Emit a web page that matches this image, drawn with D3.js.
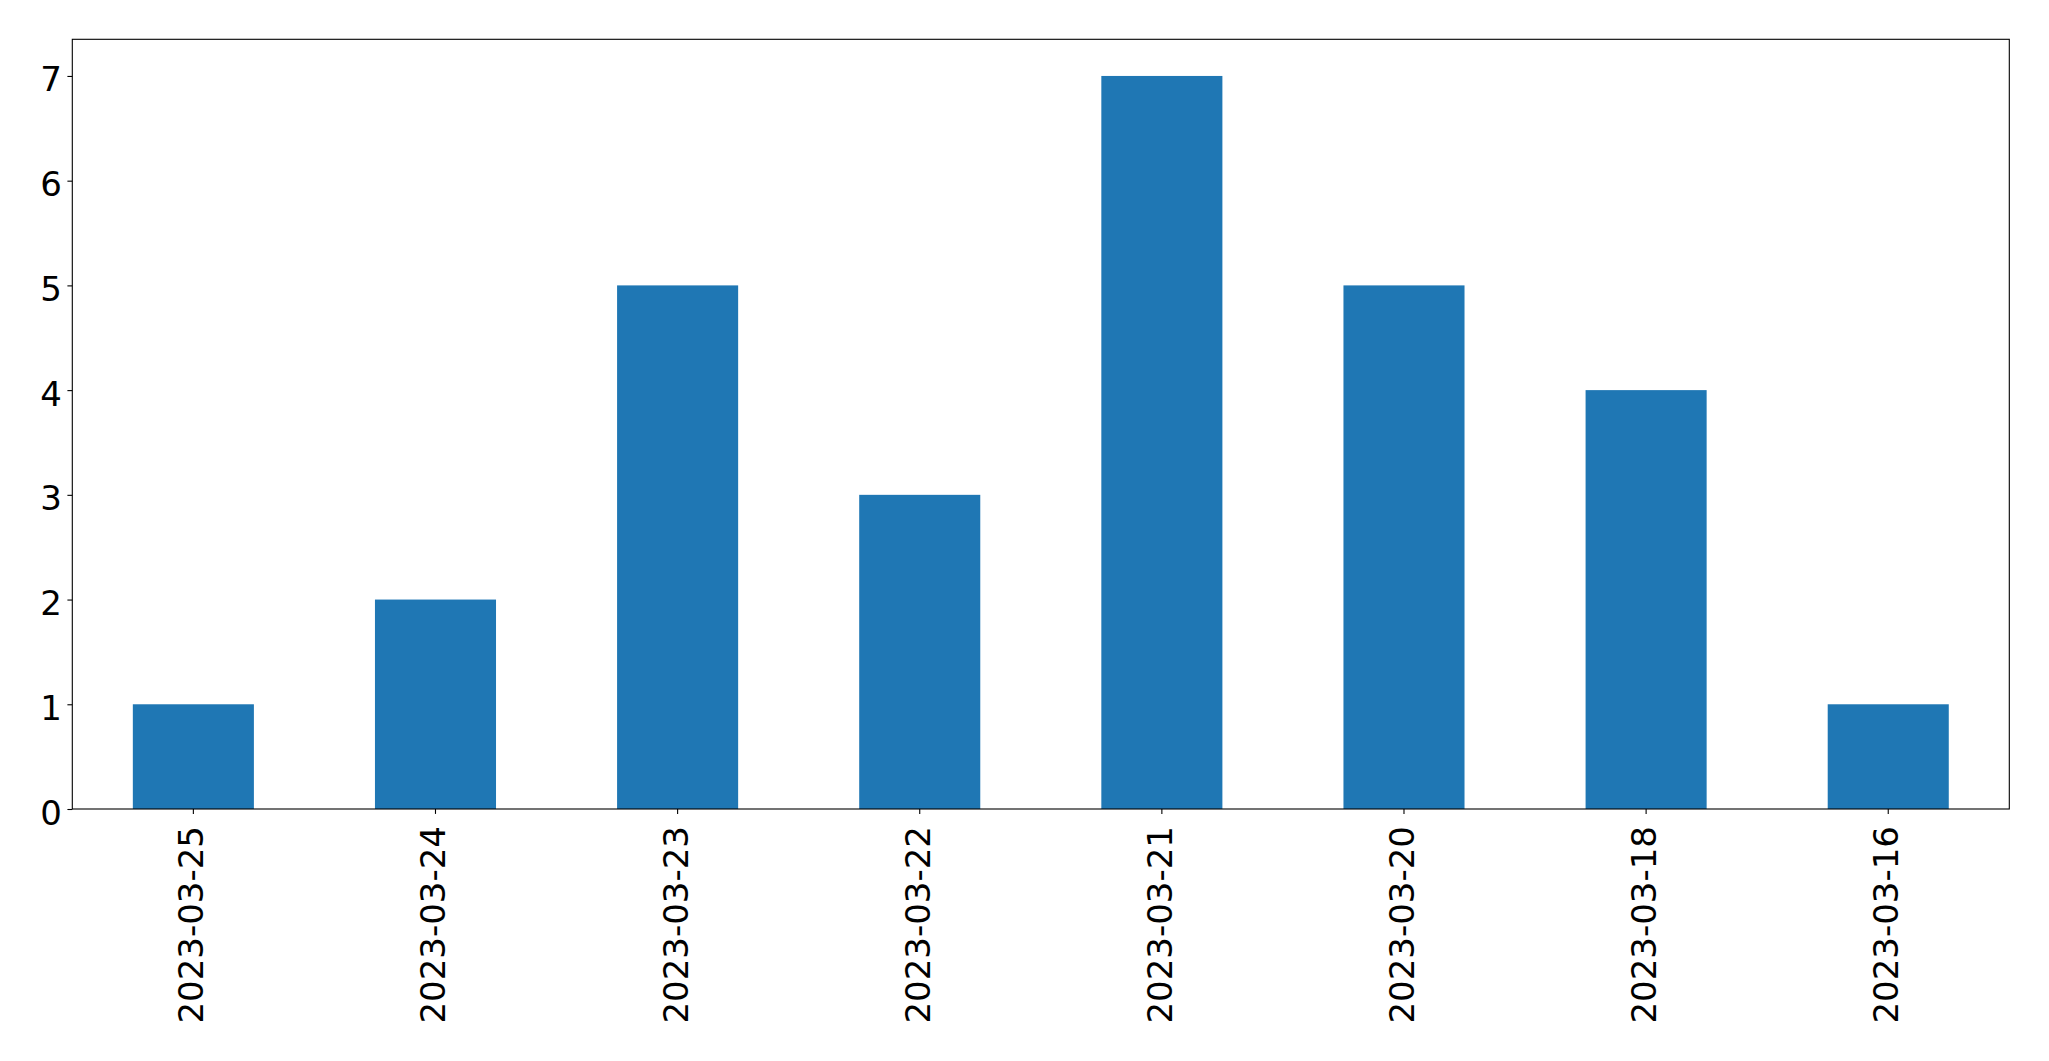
<!DOCTYPE html>
<html>
<head>
<meta charset="utf-8">
<script src="https://cdn.jsdelivr.net/npm/d3@7"></script>
<style>
  html, body { margin: 0; padding: 0; background: #ffffff; }
  svg { display: block; }
  text { font-family: "DejaVu Sans", sans-serif; fill: #000; }
</style>
</head>
<body>
<script>
const categories = ["2023-03-25", "2023-03-24", "2023-03-23", "2023-03-22", "2023-03-21", "2023-03-20", "2023-03-18", "2023-03-16"];
const values = [1, 2, 5, 3, 7, 5, 4, 1];
const yTicks = [0, 1, 2, 3, 4, 5, 6, 7];

(function () {
const W = 2049, H = 1061;
const mLeft = 72.3, mRight = 2009.3, mTop = 39.3, mBottom = 809;
const fontSize = 34;

const svg = d3.select("body").append("svg").attr("width", W).attr("height", H);

const x = d3.scaleBand().domain(categories).range([mLeft, mRight]).paddingInner(0.5).paddingOuter(0.25);
const y = d3.scaleLinear().domain([0, d3.max(values) * 1.05]).range([mBottom, mTop]);

// bars
svg.append("g").selectAll("rect").data(values).join("rect")
  .attr("x", (d, i) => x(categories[i]))
  .attr("width", x.bandwidth())
  .attr("y", d => y(d))
  .attr("height", d => y(0) - y(d))
  .attr("fill", "#1f77b4");

// y axis
const yAxis = svg.append("g").attr("transform", `translate(${mLeft},0)`)
  .call(d3.axisLeft(y).tickValues(yTicks).tickSize(4.9).tickPadding(0).tickFormat(d3.format("d")));
yAxis.select(".domain").remove();
yAxis.selectAll(".tick line").attr("stroke", "#000").attr("stroke-width", 1.1);
yAxis.selectAll(".tick text")
  .attr("x", -10.5).attr("dy", null).attr("y", 15)
  .attr("text-anchor", "end")
  .style("font-size", fontSize + "px").style("font-family", "DejaVu Sans");

// x axis
const xAxis = svg.append("g").attr("transform", `translate(0,${mBottom})`)
  .call(d3.axisBottom(x).tickSize(4.9).tickPadding(0));
xAxis.select(".domain").remove();
xAxis.selectAll(".tick line").attr("stroke", "#000").attr("stroke-width", 1.1);
xAxis.selectAll(".tick text")
  .attr("y", null).attr("dy", null)
  .attr("text-anchor", "end")
  .attr("transform", "translate(10,17) rotate(-90)")
  .style("font-size", fontSize + "px").style("font-family", "DejaVu Sans");

// frame
svg.append("rect")
  .attr("x", mLeft).attr("y", mTop)
  .attr("width", mRight - mLeft).attr("height", mBottom - mTop)
  .attr("fill", "none").attr("stroke", "#000").attr("stroke-width", 1.1);
})();
</script>
</body>
</html>
